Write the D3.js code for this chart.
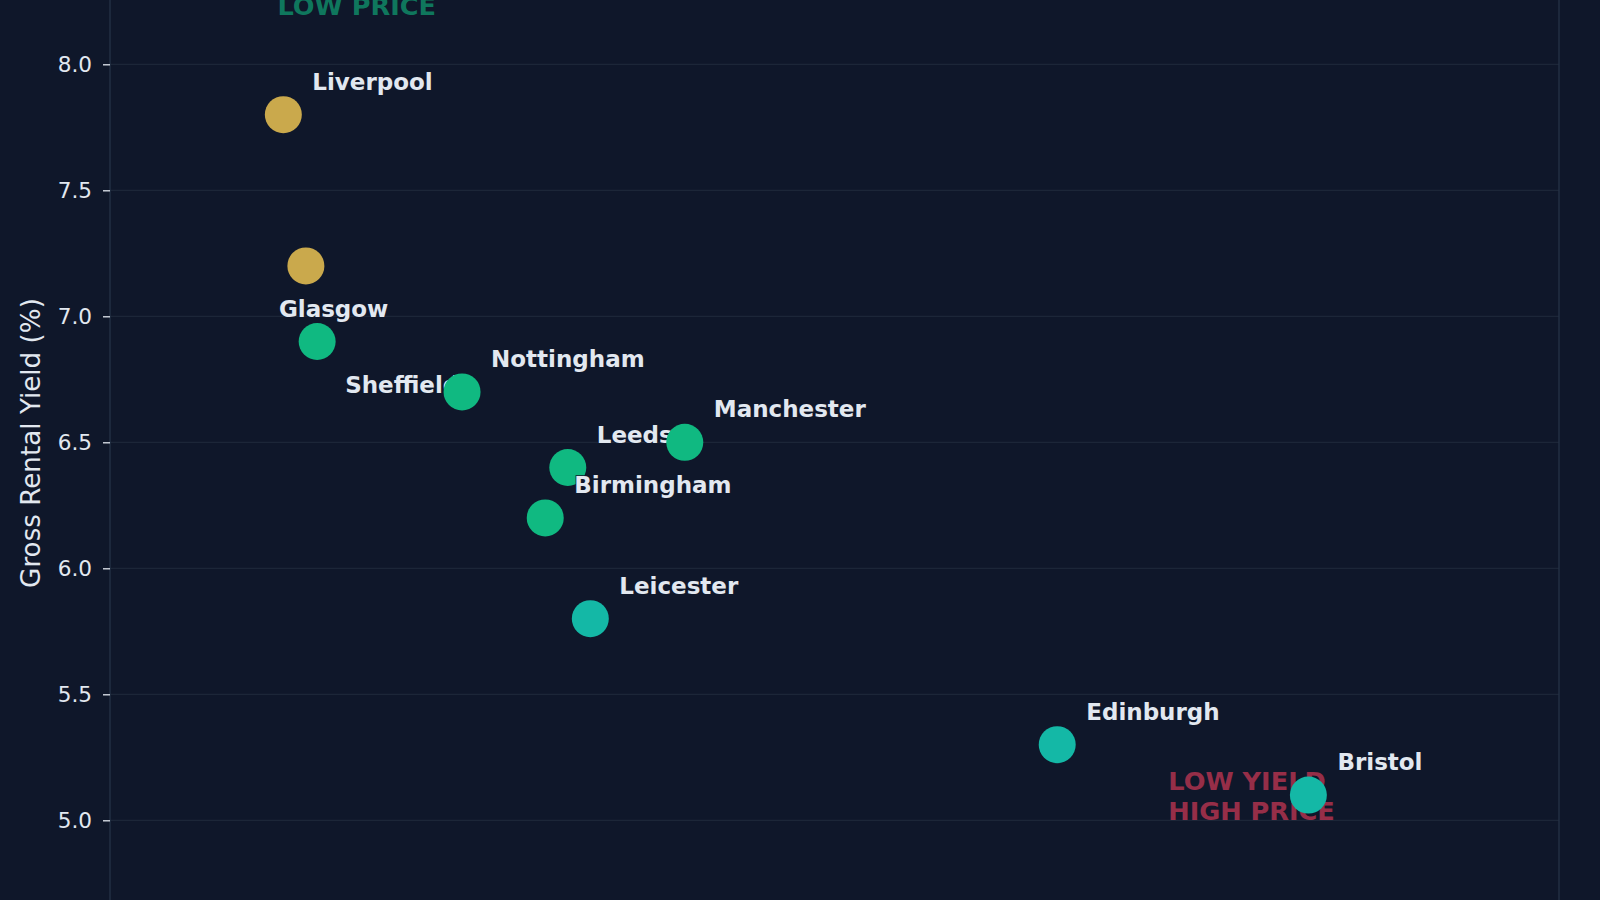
<!DOCTYPE html>
<html>
<head>
<meta charset="utf-8">
<script src="https://cdn.jsdelivr.net/npm/d3@7"></script>
<style>
  html, body { margin: 0; padding: 0; background: #0f172a; overflow: hidden; }
  svg { display: block; font-family: "DejaVu Sans", sans-serif; }
</style>
</head>
<body>
<div id="chart"></div>
<script>
// city data (price in £k, gross yield in %)
var cities = ["Liverpool", "Glasgow", "Sheffield", "Leeds", "Birmingham", "Nottingham", "Manchester", "Leicester", "Edinburgh", "Bristol"];
var prices = [147.3, 151.5, 153.6, 200.3, 196.1, 180.6, 222.1, 204.5, 291.5, 338.3];
var yields = [7.8, 7.2, 6.9, 6.4, 6.2, 6.7, 6.5, 5.8, 5.3, 5.1];
var yTicks = [5.0, 5.5, 6.0, 6.5, 7.0, 7.5, 8.0];
var yLabel = "Gross Rental Yield (%)";

// label nudges (px) for the crowded points
var labelOffsets = {
  "Glasgow": [-27, 51],
  "Sheffield": [28, 51]
};
var defaultOffset = [29, -25];

var width = 1600, height = 900;

var svg = d3.select("#chart")
  .append("svg")
    .attr("width", width)
    .attr("height", height);

svg.append("rect")
  .attr("width", width)
  .attr("height", height)
  .attr("fill", "#0f172a");

var x = d3.scaleLinear()
  .domain([115, 385])
  .range([110, 1559]);

var y = d3.scaleLinear()
  .domain([5, 8])
  .range([820.3, 64.3]);

var color = d3.scaleThreshold()
  .domain([6, 7])
  .range(["#14b8a6", "#10b981", "#caa94c"]);

// grid
svg.append("g")
  .selectAll("line")
  .data(yTicks)
  .join("line")
    .attr("x1", x.range()[0])
    .attr("x2", x.range()[1])
    .attr("y1", d => y(d))
    .attr("y2", d => y(d))
    .attr("stroke", "#1c2638")
    .attr("stroke-width", 1.3);

// spines
[x.range()[0], x.range()[1]].forEach(function(sx) {
  svg.append("line")
    .attr("x1", sx).attr("x2", sx)
    .attr("y1", 0).attr("y2", height)
    .attr("stroke", "#253247")
    .attr("stroke-width", 1.3);
});

var yAxis = d3.axisLeft(y)
  .tickValues(yTicks)
  .tickFormat(d3.format(".1f"))
  .tickSize(7)
  .tickPadding(11);

var gy = svg.append("g")
  .attr("transform", "translate(" + x.range()[0] + ",0)")
  .call(yAxis);
gy.select(".domain").remove();
gy.selectAll(".tick line").attr("stroke", "#e2e8f0").attr("stroke-width", 1.3);
gy.selectAll(".tick text")
  .attr("fill", "#e2e8f0")
  .style("font-size", "21.6px")
  .style("font-family", "DejaVu Sans, sans-serif");

svg.append("text")
  .attr("transform", "translate(30.5," + 443 + ") rotate(-90)")
  .attr("text-anchor", "middle")
  .attr("dy", "0.35em")
  .attr("fill", "#e2e8f0")
  .style("font-size", "26.2px")
  .text(yLabel);

// quadrant notes
svg.append("text")
  .attr("x", x(146.2))
  .attr("y", 15)
  .attr("fill", "#10b981")
  .attr("fill-opacity", 0.6)
  .style("font-size", "25.6px")
  .style("font-weight", "bold")
  .text("LOW PRICE");

var note = svg.append("text")
  .attr("x", x(312.2))
  .attr("y", y(5.121))
  .attr("fill", "#f43f5e")
  .attr("fill-opacity", 0.6)
  .style("font-size", "25.6px")
  .style("font-weight", "bold");
note.append("tspan").attr("x", x(312.2)).text("LOW YIELD");
note.append("tspan").attr("x", x(312.2)).attr("dy", 30).text("HIGH PRICE");

// points + labels, drawn city by city
cities.forEach(function(name, i) {
  var cx = x(prices[i]), cy = y(yields[i]);
  var off = labelOffsets[name] || defaultOffset;

  svg.append("circle")
    .attr("cx", cx)
    .attr("cy", cy)
    .attr("r", 18.5)
    .attr("fill", color(yields[i]));

  svg.append("text")
    .attr("x", cx + off[0])
    .attr("y", cy + off[1])
    .attr("fill", "#e2e8f0")
    .attr("stroke", "#0f172a")
    .attr("stroke-width", 1.5)
    .attr("paint-order", "stroke")
    .style("font-size", "23px")
    .style("font-weight", "bold")
    .text(name);
});
</script>
</body>
</html>
